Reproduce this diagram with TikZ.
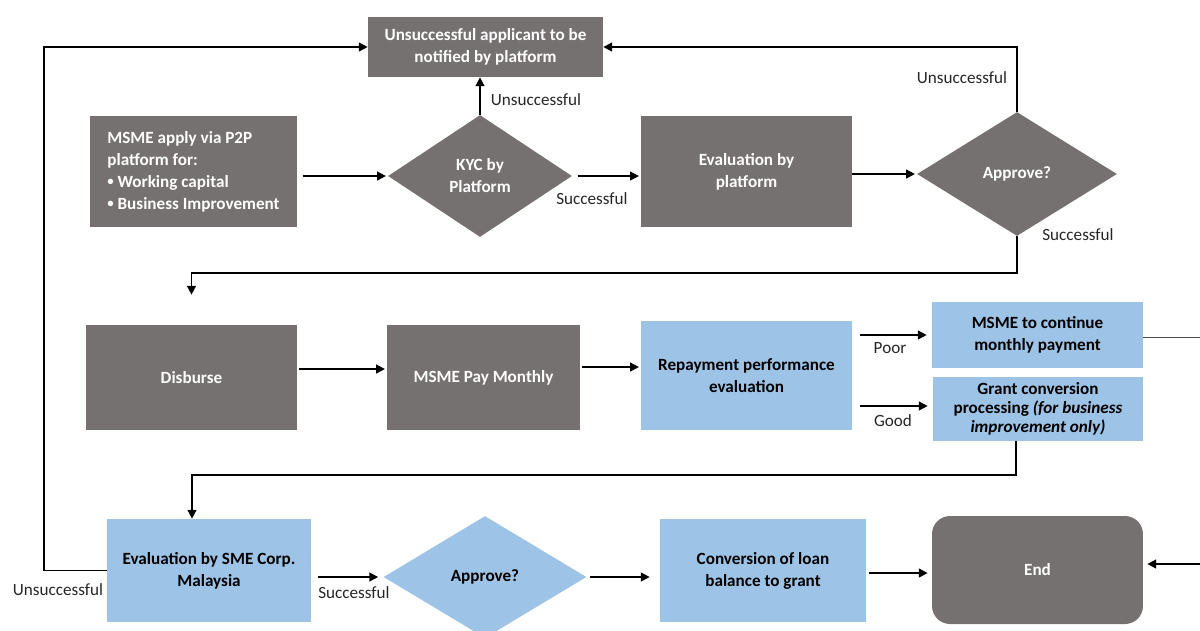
\documentclass[tikz,border=0pt]{standalone}
\usepackage{fontspec}
\usepackage{graphicx}
\setmainfont{Carlito}
\usetikzlibrary{shapes.geometric,arrows.meta}
\definecolor{boxgray}{HTML}{767171}
\definecolor{boxblue}{HTML}{9DC3E6}
\newcommand{\mybul}{\raisebox{0.12em}{\scalebox{0.75}{•}}}
\begin{document}
\begin{tikzpicture}[x=0.02cm,y=-0.02cm,
  every node/.style={font=\fontsize{9.75}{12.5}\selectfont},
  gbox/.style={rectangle, fill=boxgray, text=white, font=\fontsize{9.75}{12.5}\selectfont\bfseries, align=center, inner sep=0pt},
  bbox/.style={rectangle, fill=boxblue, text=black, font=\fontsize{9.75}{12.5}\selectfont\bfseries, align=center, inner sep=0pt},
  gdia/.style={diamond, fill=boxgray, text=white, font=\fontsize{9.75}{12.5}\selectfont\bfseries, align=center, inner sep=0pt},
  bdia/.style={diamond, fill=boxblue, text=black, font=\fontsize{9.75}{12.5}\selectfont\bfseries, align=center, inner sep=0pt},
  arr/.style={line width=0.9pt, -{Triangle[length=5pt,width=5pt]}},
  lbl/.style={inner sep=0pt, text=black!85}
]
\useasboundingbox (0,0) rectangle (1200,630);

% Row 1
\node[gbox, minimum width=4.7cm, minimum height=1.2cm] (notify) at (485.5,47) {Unsuccessful applicant to be\\notified by platform};
\node[gbox, minimum width=4.14cm, minimum height=2.22cm, align=left] (apply) at (193.5,171.5) {MSME apply via P2P\\platform for:\\\mybul{} Working capital\\\mybul{} Business Improvement};
\node[gdia, minimum width=3.68cm, minimum height=2.44cm] (kyc) at (480,176) {KYC by\\Platform};
\node[gbox, minimum width=4.22cm, minimum height=2.22cm] (evalp) at (746.5,171.5) {Evaluation by\\platform};
\node[gdia, minimum width=4.0cm, minimum height=2.48cm] (appr1) at (1017,174) {Approve?};

% Row 2
\node[gbox, minimum width=4.22cm, minimum height=2.1cm] (disb) at (191.5,377.5) {Disburse};
\node[gbox, minimum width=3.86cm, minimum height=2.1cm] (pay) at (483.5,377.5) {MSME Pay Monthly};
\node[bbox, minimum width=4.22cm, minimum height=2.18cm] (repay) at (746.5,375.5) {Repayment performance\\evaluation};
\node[bbox, minimum width=4.22cm, minimum height=1.32cm] (cont) at (1037.5,335) {MSME to continue\\monthly payment};
\node[bbox, minimum width=4.2cm, minimum height=1.28cm, font=\fontsize{9.75}{10.8}\selectfont\bfseries] (grant) at (1038,409) {Grant conversion\\processing \textit{(for business}\\\textit{improvement only)}};

% Row 3
\node[bbox, minimum width=4.08cm, minimum height=2.06cm] (sme) at (209,570.5) {Evaluation by SME Corp.\\Malaysia};
\node[bdia, minimum width=4.06cm, minimum height=2.44cm] (appr2) at (485,577) {Approve?};
\node[bbox, minimum width=4.12cm, minimum height=2.06cm] (conv) at (763,570.5) {Conversion of loan\\balance to grant};
\node[gbox, minimum width=4.22cm, minimum height=2.16cm, rounded corners=0.36cm] (end) at (1037.5,570) {End};

% Labels
\node[lbl] (l1) at (536,100) {Unsuccessful};
\node[lbl] (l2) at (592,199) {Successful};
\node[lbl] (l3) at (962,78) {Unsuccessful};
\node[lbl] (l4) at (1078,235) {Successful};
\node[lbl] (l5) at (890,348) {Poor};
\node[lbl] (l6) at (893,421) {Good};
\node[lbl] (l7) at (58,590) {Unsuccessful};
\node[lbl] (l8) at (354,593) {Successful};

% Coordinates
\coordinate (r1) at (0,273);
\coordinate (g1) at (1016,475);
\coordinate (g2) at (192,475);
\coordinate (lx) at (44,0);
\coordinate (ro) at (1200,337);
\coordinate (ri) at (1200,564);
\coordinate (y369) at (0,369);
\coordinate (y367) at (0,367);
\coordinate (y406) at (0,406);
\coordinate (y573) at (0,573);

% Connectors row 1
\draw[arr, shorten <=3pt, shorten >=1pt] (kyc.west -| apply.east) -- (kyc.west);
\draw[arr] (kyc.north) -- (kyc.north |- notify.south);
\draw[arr, shorten <=3pt, shorten >=1pt] (kyc.east) -- (kyc.east -| evalp.west);
\draw[arr, shorten >=1pt] (appr1.west -| evalp.east) -- (appr1.west);
\draw[arr] (appr1.north) |- (notify.east);
\draw[arr, shorten >=0.6cm] (appr1.south) |- (disb.north |- r1) -- (disb.north);

% Connectors row 2
\draw[arr, shorten <=1pt, shorten >=1pt] (disb.east |- y369) -- (pay.west |- y369);
\draw[arr, shorten <=1pt, shorten >=1pt] (pay.east |- y367) -- (repay.west |- y367);
\draw[arr, shorten <=0.16cm, shorten >=0.1cm] (repay.east |- cont.west) -- (cont.west);
\draw[arr, shorten <=0.16cm, shorten >=0.1cm] (repay.east |- y406) -- (grant.west |- y406);
\draw[line width=0.5pt, black!70] (cont.east |- ro) -- (ro);
\draw[arr] (grant.south -| g1) -- (g1) -- (g2) -- (g2 |- sme.north);

% Connectors row 3
\draw[arr, shorten <=0.14cm, shorten >=0.1cm] (appr2.west -| sme.east) -- (appr2.west);
\draw[arr, shorten <=0.06cm, shorten >=0.2cm] (appr2.east) -- (appr2.east -| conv.west);
\draw[arr, shorten <=0.06cm, shorten >=0.08cm] (conv.east |- y573) -- (end.west |- y573);
\draw[arr, shorten >=0.08cm] (ri) -- (ri -| end.east);
\draw[arr] (sme.west) -| (lx |- notify.west) -- (notify.west);
\end{tikzpicture}
\end{document}
